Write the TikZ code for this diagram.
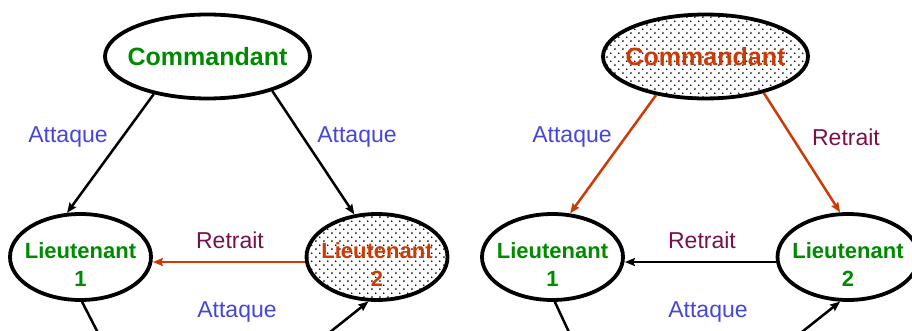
\documentclass[tikz,border=0pt]{standalone}
\usepackage{fontspec}
\setmainfont{Liberation Sans}
\usetikzlibrary{shapes.geometric,arrows.meta,patterns}

% staggered dot raster used for the highlighted bubbles
\pgfdeclarepatternformonly{officedots}{\pgfqpoint{0pt}{0pt}}{\pgfqpoint{8.3pt}{8.3pt}}{\pgfqpoint{8.3pt}{8.3pt}}{%
  \pgfpathcircle{\pgfqpoint{2.07pt}{2.07pt}}{1.0pt}%
  \pgfpathcircle{\pgfqpoint{6.22pt}{6.22pt}}{1.0pt}%
  \pgfusepath{fill}}

\definecolor{cgreen}{HTML}{008A00}
\definecolor{cblue}{HTML}{4646D8}
\definecolor{cplum}{HTML}{7A1048}
\definecolor{corange}{HTML}{CC3A06}

\begin{document}
\begin{tikzpicture}[x=1pt,y=-1pt,
  bubble/.style={ellipse, draw=black, line width=3.8pt, inner sep=0pt},
  chief/.style={bubble, minimum width=205pt, minimum height=84pt},
  lieut/.style={bubble, minimum width=141pt, minimum height=86pt},
  speckled/.style={pattern=officedots, pattern color=black},
  chieftext/.style={font=\bfseries\fontsize{25}{30}\selectfont, inner sep=0pt},
  lieuttext/.style={align=center, font=\bfseries\fontsize{22}{28}\selectfont, inner sep=0pt},
  order/.style={font=\fontsize{23}{28}\selectfont, inner sep=0pt},
  link/.style={line width=2.5pt, -{Stealth[length=10pt,width=8pt,inset=1.5pt]}},
  plain/.style={line width=2.5pt}]

\useasboundingbox (0,0) rectangle (912,331);
\clip (0,0) rectangle (912,331);

% ---------- first scenario: lieutenant 2 is the traitor ----------
\node[chief] (cA) at (207.5,56.5) {};
\node[chieftext, text=cgreen] at (cA.center) {Commandant};
\node[lieut] (a1) at (80.5,257) {};
\node[lieuttext, text=cgreen] at ([yshift=-8pt]a1.center) {Lieutenant\\1};
\node[lieut, speckled] (a2) at (377,257) {};
\node[lieuttext, text=corange] at ([yshift=-8pt]a2.center) {Lieutenant\\2};

\coordinate (a1out) at (112,360);
\coordinate (a2in) at (295,360);

\draw[link] (cA.-145) -- (a1.107);
\draw[link] (cA.-28.5) -- (a2.118.5);
\draw[link, corange] (a2.184) -- (a2.184 -| a1.east);
\draw[plain] (a1.-88) -- (a1out);
\draw[link] (a2in) -- (a2.-101.5);

\node[order, text=cblue] at (68,137) {Attaque};
\node[order, text=cblue] at (357,137) {Attaque};
\node[order, text=cplum] at (230,240) {Retrait};
\node[order, text=cblue] at (237,312) {Attaque};

% ---------- second scenario: the commander is the traitor ----------
\node[chief, speckled] (cB) at (705.5,56.5) {};
\node[chieftext, text=corange] at (cB.center) {Commandant};
\node[lieut] (b1) at (552.5,257) {};
\node[lieuttext, text=cgreen] at ([yshift=-8pt]b1.center) {Lieutenant\\1};
\node[lieut] (b2) at (848,257) {};
\node[lieuttext, text=cgreen] at ([yshift=-8pt]b2.center) {Lieutenant\\2};

\coordinate (b1out) at (582,360);
\coordinate (b2in) at (766.6,360);

\draw[link, corange] (cB.-142.7) -- (b1.68.3);
\draw[link, corange] (cB.-32.9) -- (b2.100);
\draw[link] (b2.184) -- (b2.184 -| b1.east);
\draw[plain] (b1.-87) -- (b1out);
\draw[link] (b2in) -- (b2.-100);

\node[order, text=cblue] at (572,137) {Attaque};
\node[order, text=cplum] at (846,137) {Retrait};
\node[order, text=cplum] at (702,240) {Retrait};
\node[order, text=cblue] at (708,312) {Attaque};
\end{tikzpicture}
\end{document}
